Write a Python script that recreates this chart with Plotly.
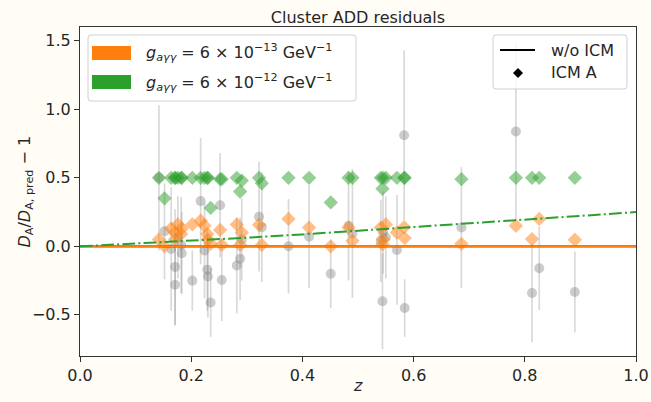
import plotly.graph_objects as go

# Cluster redshifts
z = [0.142, 0.152, 0.164, 0.171, 0.171, 0.176, 0.182, 0.183, 0.202, 0.217,
     0.224, 0.229, 0.230, 0.235, 0.252, 0.255, 0.282, 0.288, 0.291, 0.322,
     0.327, 0.375, 0.412, 0.451, 0.483, 0.490, 0.541, 0.544, 0.545, 0.550,
     0.570, 0.583, 0.584, 0.686, 0.784, 0.813, 0.826, 0.890]

# Measured residuals D_A / D_A,pred - 1 and their 1-sigma errors
resid = [0.50, 0.11, -0.02, -0.15, -0.28, 0.065, 0.01, -0.05, -0.25, 0.33,
         -0.03, -0.17, -0.22, -0.41, 0.30, -0.245, -0.14, -0.09, 0.05, 0.216,
         0.14, 0.00, 0.07, -0.20, 0.15, 0.094, 0.04, -0.40, 0.10, 0.065,
         -0.026, 0.81, -0.45, 0.137, 0.838, -0.34, -0.16, -0.333]
resid_err = [0.53, 0.35, 0.45, 0.42, 0.30, 0.30, 0.35, 0.30, 0.22, 0.46,
             0.35, 0.30, 0.30, 0.25, 0.38, 0.30, 0.35, 0.30, 0.30, 0.40,
             0.40, 0.345, 0.375, 0.25, 0.40, 0.47, 0.30, 0.35, 0.30, 0.30,
             0.40, 0.62, 0.21, 0.44, 0.65, 0.36, 0.305, 0.295]

# ICM A model predictions for the two couplings
icm_a_13 = [0.05, 0.00, 0.13, 0.10, 0.05, 0.16, 0.09, 0.13, 0.16, 0.187,
            0.15, 0.09, 0.05, 0.018, 0.12, 0.01, 0.16, 0.01, 0.10, 0.157,
            0.01, 0.20, 0.137, 0.00, 0.137, 0.04, 0.137, 0.016, 0.05, 0.16,
            0.10, 0.14, 0.06, 0.018, 0.15, 0.053, 0.20, 0.048]
icm_a_12 = [0.50, 0.35, 0.50, 0.50, 0.50, 0.50, 0.50, 0.50, 0.50, 0.50,
            0.50, 0.50, 0.50, 0.28, 0.49, 0.49, 0.50, 0.40, 0.48, 0.50,
            0.46, 0.50, 0.50, 0.32, 0.50, 0.50, 0.50, 0.42, 0.50, 0.50,
            0.50, 0.50, 0.50, 0.49, 0.50, 0.50, 0.50, 0.50]

# Predictions without the ICM, sampled on a redshift grid
z_grid = [0.0, 0.1, 0.2, 0.3, 0.4, 0.5, 0.6, 0.7, 0.8, 0.9, 1.0]
noicm_13 = [0.0, 0.0, 0.0, 0.0, 0.0, 0.0, 0.0, 0.0, 0.0, 0.0, 0.0]
noicm_12 = [0.0, 0.020, 0.042, 0.063, 0.087, 0.113, 0.140, 0.167, 0.194, 0.222, 0.250]
baseline = [0.0] * len(z_grid)

ORANGE = "#ff7f0e"
GREEN = "#2ca02c"
TXT = "#262626"
FONT = "DejaVu Sans"

W, H = 651, 402
L, R, T, B = 80, 636, 27, 356


def px(x):
    return (x - L) / (R - L)


def py(y):
    return (B - y) / (B - T)


fig = go.Figure()

fig.add_trace(go.Scatter(
    x=z, y=resid, mode="markers",
    marker=dict(color="rgba(128,128,128,0.4)", size=10, line=dict(width=0)),
    error_y=dict(type="data", array=resid_err, visible=True,
                 color="rgba(128,128,128,0.3)", thickness=1.7, width=0),
    showlegend=False, hoverinfo="skip"))

fig.add_trace(go.Scatter(
    x=z, y=icm_a_13, mode="markers",
    marker=dict(symbol="diamond", color=ORANGE, opacity=0.5, size=11,
                line=dict(width=0)),
    showlegend=False))
fig.add_trace(go.Scatter(
    x=z, y=icm_a_12, mode="markers",
    marker=dict(symbol="diamond", color=GREEN, opacity=0.5, size=11,
                line=dict(width=0)),
    showlegend=False))

fig.add_trace(go.Scatter(x=z_grid, y=baseline, mode="lines",
                         line=dict(color="black", width=1.6), showlegend=False))
fig.add_trace(go.Scatter(x=z_grid, y=noicm_13, mode="lines",
                         line=dict(color=ORANGE, width=2.4), showlegend=False))
fig.add_trace(go.Scatter(x=z_grid, y=noicm_12, mode="lines",
                         line=dict(color=GREEN, width=2,
                                   dash="12.8px,3.2px,2px,3.2px"),
                         showlegend=False))

shapes = []
annotations = []


def rounded_box(x0, y0, x1, y1, r=3):
    rx = r / (R - L)
    ry = r / (B - T)
    a, b, c, d = px(x0), px(x1), py(y1), py(y0)
    path = (f"M {a+rx},{c} L {b-rx},{c} Q {b},{c} {b},{c+ry} "
            f"L {b},{d-ry} Q {b},{d} {b-rx},{d} L {a+rx},{d} "
            f"Q {a},{d} {a},{d-ry} L {a},{c+ry} Q {a},{c} {a+rx},{c} Z")
    return dict(type="path", xref="paper", yref="paper", path=path,
                fillcolor="rgba(255,255,255,0.8)",
                line=dict(color="#d0d0d0", width=1), layer="above")


# coupling legend (upper left)
shapes.append(rounded_box(88, 35, 356, 101))
for yc, col, exp in [(53, ORANGE, "13"), (82, GREEN, "12")]:
    shapes.append(dict(type="rect", xref="paper", yref="paper",
                       x0=px(92), x1=px(131), y0=py(yc + 7), y1=py(yc - 7),
                       fillcolor=col, line=dict(width=0), layer="above"))
    annotations.append(dict(
        xref="paper", yref="paper", x=px(144), y=py(yc), xanchor="left",
        yanchor="middle", showarrow=False,
        text=(f"<i>g</i><sub><i>aγγ</i></sub> = 6 × 10<sup>−{exp}</sup> "
              f"GeV<sup>−1</sup>"),
        font=dict(family=FONT, size=16, color=TXT)))

# model legend (upper right)
shapes.append(rounded_box(493, 35, 627, 89))
shapes.append(dict(type="line", xref="paper", yref="paper",
                   x0=px(500), x1=px(535), y0=py(50), y1=py(50),
                   line=dict(color="black", width=2), layer="above"))
dx, dy = 5 / (R - L), 5 / (B - T)
cx, cy = px(518), py(73)
shapes.append(dict(type="path", xref="paper", yref="paper",
                   path=f"M {cx},{cy+dy} L {cx+dx},{cy} L {cx},{cy-dy} L {cx-dx},{cy} Z",
                   fillcolor="black", line=dict(width=0), layer="above"))
for yc, label in [(50, "w/o ICM"), (73, "ICM A")]:
    annotations.append(dict(
        xref="paper", yref="paper", x=px(549), y=py(yc), xanchor="left",
        yanchor="middle", showarrow=False, text=label,
        font=dict(family=FONT, size=16, color=TXT)))

# axis labels
annotations.append(dict(
    xref="paper", yref="paper", x=px(25), y=0.5, xanchor="center",
    yanchor="middle", showarrow=False, textangle=-90,
    text="<i>D</i><sub>A</sub>/<i>D</i><sub>A, pred</sub> − 1",
    font=dict(family=FONT, size=16, color=TXT)))
annotations.append(dict(
    xref="paper", yref="paper", x=0.5, y=py(385), xanchor="center",
    yanchor="middle", showarrow=False, text="<i>z</i>",
    font=dict(family=FONT, size=16, color=TXT)))

axis_common = dict(showline=True, mirror=True, linecolor="#333333", linewidth=1,
                   ticks="outside", ticklen=5, tickwidth=1, tickcolor="#333333",
                   showgrid=False, zeroline=False, automargin=False,
                   tickfont=dict(family=FONT, size=16, color=TXT))

fig.update_layout(
    width=W, height=H,
    margin=dict(l=L, r=W - R, t=T, b=H - B, autoexpand=False),
    paper_bgcolor="#fffdf6", plot_bgcolor="white",
    title=dict(text="Cluster ADD residuals", x=0.5, xref="paper",
               y=1 - 17 / H, yref="container", xanchor="center",
               yanchor="middle",
               font=dict(family=FONT, size=16, color=TXT)),
    xaxis=dict(range=[0, 1], tickvals=[0, 0.2, 0.4, 0.6, 0.8, 1.0],
               ticktext=["0.0", "0.2", "0.4", "0.6", "0.8", "1.0"],
               **axis_common),
    yaxis=dict(range=[-0.8, 1.6], tickvals=[-0.5, 0, 0.5, 1.0, 1.5],
               ticktext=["−0.5", "0.0", "0.5", "1.0", "1.5"],
               **axis_common),
    shapes=shapes, annotations=annotations, showlegend=False,
)

fig.write_html("out.html")
